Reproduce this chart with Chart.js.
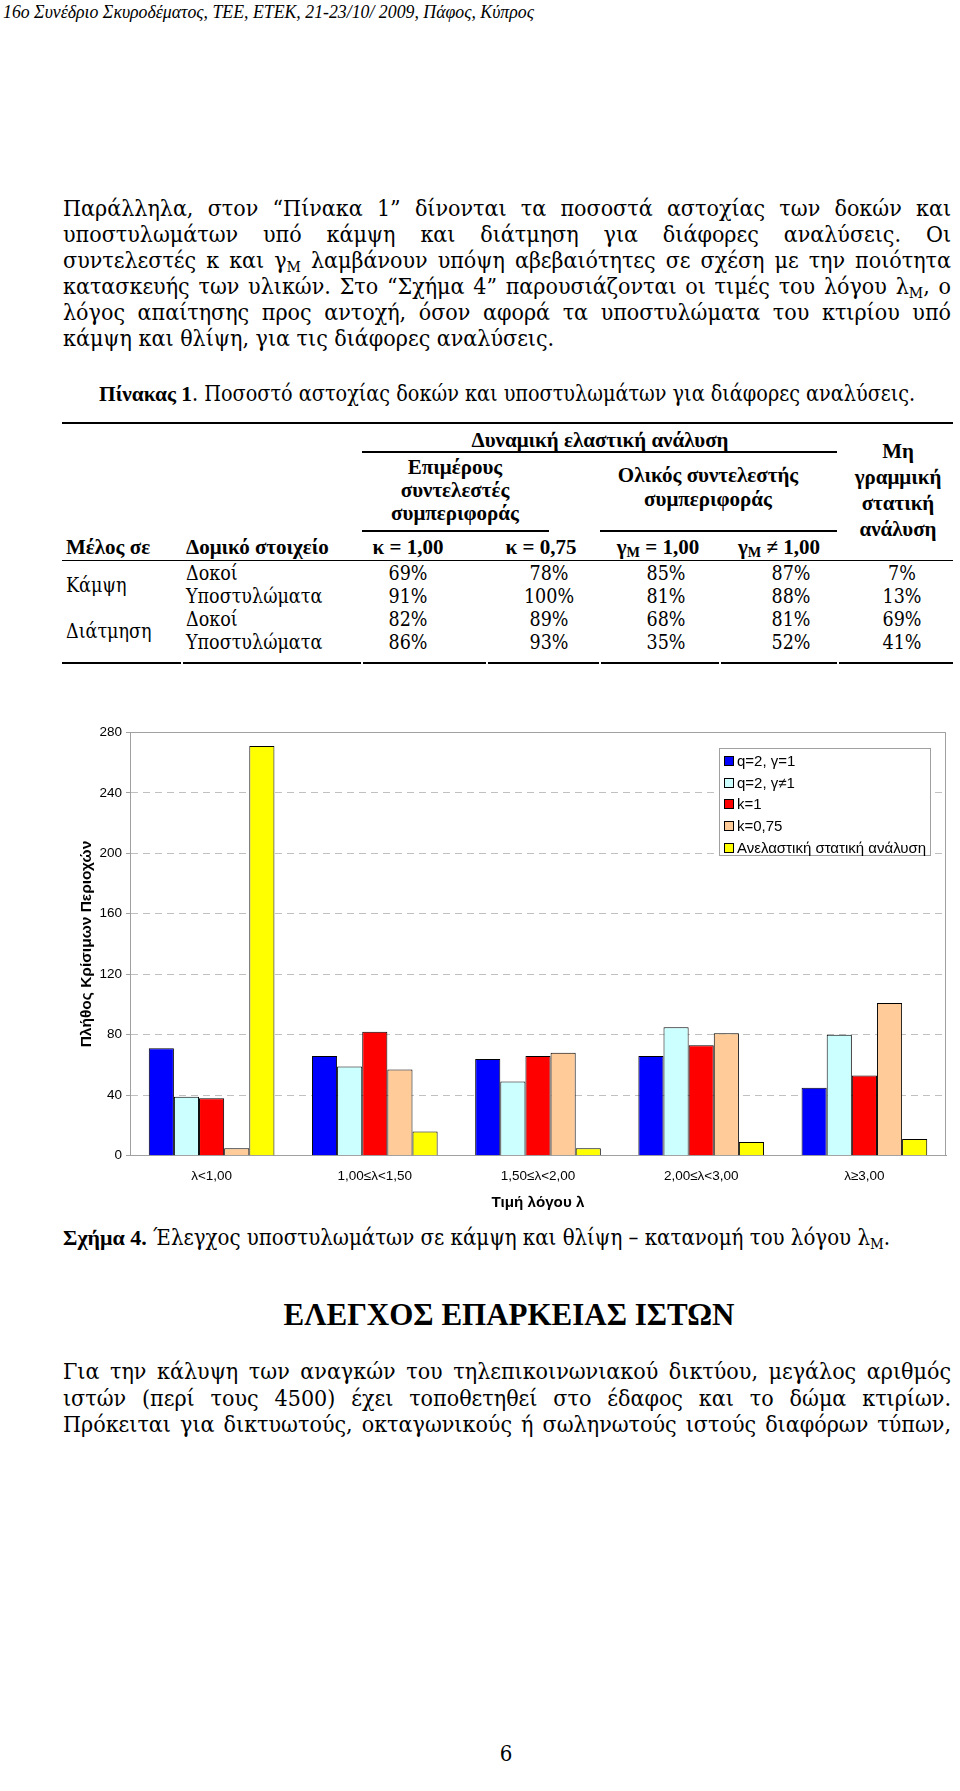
<!DOCTYPE html>
<html><head><meta charset="utf-8">
<script src="https://cdn.jsdelivr.net/npm/chart.js@4.4.0/dist/chart.umd.min.js"></script>
<style>
html,body{margin:0;padding:0;background:#fff;}
body{width:960px;height:1791px;position:relative;overflow:hidden;font-family:"Liberation Serif","Times New Roman",serif;color:#000;}
.reg{font-family:"DejaVu Serif Condensed","DejaVu Serif",serif;font-stretch:condensed;font-weight:normal;}
b{font-family:"Liberation Serif","Times New Roman",serif;font-weight:bold;font-stretch:normal;}
.line{position:absolute;left:63px;width:888px;font-size:23px;line-height:26px;text-align:justify;text-align-last:justify;}
.line.last{text-align-last:left;}
.t{position:absolute;white-space:nowrap;transform:translate(-50%,-50%);line-height:1;}
.tl{position:absolute;white-space:nowrap;transform:translate(0,-50%);line-height:1;}
.rule{position:absolute;background:#000;}
sub{font-size:0.68em;vertical-align:-0.28em;line-height:0;}
#legend{position:absolute;left:719px;top:748px;width:210px;height:105px;border:1px solid #a0a0a0;background:#fff;font-family:"Liberation Sans",Arial,sans-serif;font-size:15px;padding-top:1px;box-sizing:content-box;}
#legend .it{height:21.7px;line-height:21.7px;white-space:nowrap;position:relative;padding-left:17px;}
#legend .sw{position:absolute;left:4px;top:6px;width:8px;height:8px;border:1px solid #000;}
</style>
</head><body>
<div class="tl" style="left:3px;top:13px;font-size:17.8px;font-style:italic;">16ο Συνέδριο Σκυροδέματος, ΤΕΕ, ΕΤΕΚ, 21-23/10/ 2009, Πάφος, Κύπρος</div>

<div class="line reg" style="top:195px">Παράλληλα, στον “Πίνακα 1” δίνονται τα ποσοστά αστοχίας των δοκών και</div>
<div class="line reg" style="top:221px">υποστυλωμάτων υπό κάμψη και διάτμηση για διάφορες αναλύσεις. Οι</div>
<div class="line reg" style="top:247px">συντελεστές κ και γ<sub>M</sub> λαμβάνουν υπόψη αβεβαιότητες σε σχέση με την ποιότητα</div>
<div class="line reg" style="top:273px">κατασκευής των υλικών. Στο “Σχήμα 4” παρουσιάζονται οι τιμές του λόγου λ<sub>M</sub>, ο</div>
<div class="line reg" style="top:299px">λόγος απαίτησης προς αντοχή, όσον αφορά τα υποστυλώματα του κτιρίου υπό</div>
<div class="line reg last" style="top:325px">κάμψη και θλίψη, για τις διάφορες αναλύσεις.</div>

<div class="tl reg" style="left:99px;top:394px;font-size:21.4px;"><b>Πίνακας 1</b>. Ποσοστό αστοχίας δοκών και υποστυλωμάτων για διάφορες αναλύσεις.</div>

<div id="table"></div>

<canvas id="c" width="960" height="520" style="position:absolute;left:0;top:700px;"></canvas>
<div id="legend"></div>

<div class="tl reg" style="left:63px;top:1238px;font-size:22px;"><b>Σχήμα 4.</b> Έλεγχος υποστυλωμάτων σε κάμψη και θλίψη – κατανομή του λόγου λ<sub>M</sub>.</div>

<div class="t" style="left:509px;top:1314px;font-size:31px;font-weight:bold;">ΕΛΕΓΧΟΣ ΕΠΑΡΚΕΙΑΣ ΙΣΤΩΝ</div>

<div class="line reg" style="top:1358px">Για την κάλυψη των αναγκών του τηλεπικοινωνιακού δικτύου, μεγάλος αριθμός</div>
<div class="line reg" style="top:1385px">ιστών (περί τους 4500) έχει τοποθετηθεί στο έδαφος και το δώμα κτιρίων.</div>
<div class="line reg" style="top:1411px">Πρόκειται για δικτυωτούς, οκταγωνικούς ή σωληνωτούς ιστούς διαφόρων τύπων,</div>

<div class="t reg" style="left:506px;top:1754px;font-size:22px;">6</div>

<script>
// ---- Chart data ----
const categories = ['λ<1,00', '1,00≤λ<1,50', '1,50≤λ<2,00', '2,00≤λ<3,00', 'λ≥3,00'];
const seriesNames = ['q=2, γ=1', 'q=2, γ≠1', 'k=1', 'k=0,75', 'Ανελαστική στατική ανάλυση'];
const q2g1 = [71, 66, 64, 66, 45];
const q2gNot1 = [39, 59, 49, 85, 80];
const k1 = [38, 82, 66, 73, 53];
const k075 = [5, 57, 68, 81, 101];
const inelasticStatic = [271, 16, 5, 9, 11];
const yTicks = [0, 40, 80, 120, 160, 200, 240, 280];
const yTitle = 'Πλήθος Κρίσιμων Περιοχών';
const xTitle = 'Τιμή λόγου λ';

// ---- Table data ----
const tblGroups = ['Κάμψη', 'Διάτμηση'];
const tblElements = ['Δοκοί', 'Υποστυλώματα', 'Δοκοί', 'Υποστυλώματα'];
const colK100 = ['69%', '91%', '82%', '86%'];
const colK075 = ['78%', '100%', '89%', '93%'];
const colGm1 = ['85%', '81%', '68%', '35%'];
const colGmNot1 = ['87%', '88%', '81%', '52%'];
const colNonLinear = ['7%', '13%', '69%', '41%'];

// keep each justified line on one line
document.querySelectorAll('.line').forEach(el => {
  let fs = 23;
  while (el.offsetHeight > 30 && fs > 14) { fs -= 0.2; el.style.fontSize = fs + 'px'; }
});

// ---- build table ----
const T = document.getElementById('table');
function txt(html, x, y, size, bold, left) {
  const d = document.createElement('div');
  d.className = (left ? 'tl' : 't') + (bold ? '' : ' reg');
  d.style.left = x + 'px'; d.style.top = y + 'px';
  d.style.fontSize = size + 'px';
  if (bold) d.style.fontWeight = 'bold';
  d.innerHTML = html; T.appendChild(d);
}
function rule(x1, x2, y, h) {
  const d = document.createElement('div');
  d.className = 'rule';
  d.style.left = x1 + 'px'; d.style.width = (x2 - x1) + 'px';
  d.style.top = y + 'px'; d.style.height = h + 'px';
  T.appendChild(d);
}
const FS = 21, FR = 19.5;
rule(62, 953, 422, 2);
txt('Δυναμική ελαστική ανάλυση', 600, 440, FS, true);
rule(362, 837, 451, 1.5);
txt('Επιμέρους', 455, 467, FS, true);
txt('συντελεστές', 455, 490, FS, true);
txt('συμπεριφοράς', 455, 513, FS, true);
rule(362, 549, 530, 1.5);
txt('Ολικός συντελεστής', 708, 475, FS, true);
txt('συμπεριφοράς', 708, 499, FS, true);
rule(600, 837, 530, 1.5);
['Μη', 'γραμμική', 'στατική', 'ανάλυση'].forEach((s, i) => txt(s, 898, 451 + i * 26, FS, true));
txt('Μέλος σε', 66, 547, FS, true, true);
txt('Δομικό στοιχείο', 186, 547, FS, true, true);
const headCenters = [408, 541, 658, 779];
const colCenters = [408, 549, 666, 791, 902];
const colHeads = ['κ = 1,00', 'κ = 0,75', 'γ<sub>M</sub> = 1,00', 'γ<sub>M</sub> ≠ 1,00'];
colHeads.forEach((h, i) => txt(h, headCenters[i], 547, FS, true));
rule(62, 953, 560, 1);
const rowY = [574, 597, 620, 643];
tblGroups.forEach((g, i) => txt(g, 66, (rowY[2 * i] + rowY[2 * i + 1]) / 2, FR, false, true));
const cols = [colK100, colK075, colGm1, colGmNot1, colNonLinear];
rowY.forEach((y, r) => {
  txt(tblElements[r], 186, y, FR, false, true);
  cols.forEach((c, ci) => txt(c[r], colCenters[ci], y, FR, false));
});
[[62, 181], [183, 361], [363, 486], [488, 599], [601, 719], [721, 837], [839, 953]].forEach(([a, b]) => rule(a, b, 662, 2));

// ---- chart ----
Chart.defaults.font.family = "'Liberation Sans', Arial, sans-serif";
Chart.defaults.color = '#000';
const colors = ['#0000FF', '#CCFFFF', '#FF0000', '#FFCC99', '#FFFF00'];
const series = [q2g1, q2gNot1, k1, k075, inelasticStatic];

const frame = {
  id: 'frame',
  afterDraw(c) {
    const { ctx, chartArea: a } = c;
    ctx.save();
    ctx.strokeStyle = '#a0a0a0'; ctx.lineWidth = 1;
    ctx.beginPath();
    ctx.moveTo(a.left, Math.round(a.top) + 0.5);
    ctx.lineTo(Math.round(a.right) - 0.5, Math.round(a.top) + 0.5);
    ctx.lineTo(Math.round(a.right) - 0.5, a.bottom);
    ctx.stroke();
    ctx.restore();
  }
};

new Chart(document.getElementById('c'), {
  type: 'bar',
  data: {
    labels: categories,
    datasets: series.map((d, i) => ({
      label: seriesNames[i], data: d,
      backgroundColor: colors[i], borderColor: '#000', borderWidth: 1,
      categoryPercentage: 0.77, barPercentage: 1.0
    }))
  },
  options: {
    responsive: false, devicePixelRatio: 1, animation: false,
    layout: { padding: { left: 73, top: 32.3, right: 14, bottom: 0 } },
    plugins: { legend: { display: false }, tooltip: { enabled: false } },
    scales: {
      y: {
        min: 0, max: 280,
        afterBuildTicks(s) { s.ticks = yTicks.map(v => ({ value: v })); },
        ticks: { font: { size: 13.5 }, color: '#000', padding: 4 },
        grid: { color: '#c0c0c0', tickLength: 4, tickColor: '#a0a0a0', lineWidth: 1 },
        border: {
          color: '#a0a0a0', width: 1,
          dash: ctx => (ctx.tick && ctx.tick.value !== 0 && ctx.tick.value !== 280) ? [7, 5] : []
        },
        title: { display: true, text: yTitle, font: { size: 15.5, weight: 'bold' }, color: '#000', padding: { top: 4, bottom: 0 } },
        afterFit(s) { s.width = 57; }
      },
      x: {
        grid: { display: false, drawTicks: false },
        border: { color: '#a0a0a0', width: 1 },
        ticks: { font: { size: 13.5 }, color: '#000', padding: 12, maxRotation: 0 },
        title: { display: true, text: xTitle, font: { size: 15.2, weight: 'bold' }, color: '#000', padding: { top: 4, bottom: 8 } },
        afterFit(s) { s.height = 64.3; }
      }
    }
  },
  plugins: [frame]
});

// ---- legend ----
const L = document.getElementById('legend');
seriesNames.forEach((n, i) => {
  const it = document.createElement('div'); it.className = 'it';
  const sw = document.createElement('span'); sw.className = 'sw'; sw.style.background = colors[i];
  it.appendChild(sw); it.appendChild(document.createTextNode(n));
  L.appendChild(it);
});
</script>
</body></html>
